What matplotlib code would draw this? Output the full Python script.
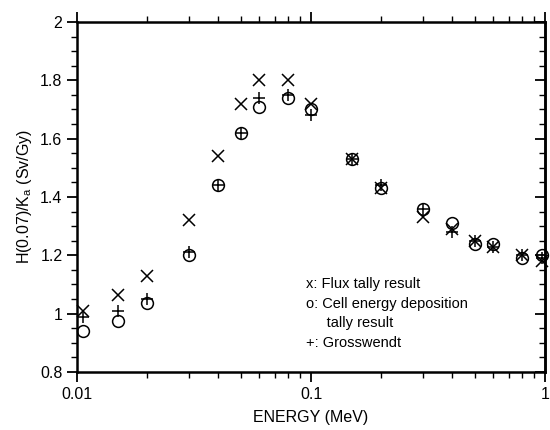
import numpy as np
import matplotlib
matplotlib.use("Agg")
import matplotlib.pyplot as plt
from matplotlib.ticker import FixedLocator, NullFormatter, MultipleLocator

plt.rcParams["font.family"] = ["Liberation Sans", "DejaVu Sans"]

# photon energy (MeV), as placed on the scanned plot
energy = [0.0106, 0.015, 0.02, 0.03, 0.04, 0.05, 0.06, 0.08, 0.1,
          0.15, 0.2, 0.3, 0.4, 0.5, 0.6, 0.8, 0.97]

# H(0.07)/Ka (Sv/Gy)
flux_tally = [1.01, 1.065, 1.13, 1.32, 1.54, 1.72, 1.80, 1.80, 1.72,
              1.53, 1.43, 1.33, 1.29, 1.25, 1.23, 1.20, 1.18]
cell_tally = [0.94, 0.975, 1.035, 1.20, 1.44, 1.62, 1.71, 1.74, 1.70,
              1.53, 1.43, 1.36, 1.31, 1.24, 1.24, 1.19, 1.20]
grosswendt = [0.99, 1.01, 1.05, 1.21, 1.44, 1.62, 1.74, 1.75, 1.68,
              1.53, 1.44, 1.36, 1.28, 1.25, 1.23, 1.20, 1.19]

fig = plt.figure(figsize=(5.5, 4.3), dpi=100)
ax = fig.add_axes([0.14, 0.135, 0.851, 0.814])

ax.plot(energy, flux_tally, "x", color="black", markersize=8, markeredgewidth=1.1, clip_on=False)
ax.plot(energy, cell_tally, "o", color="black", markersize=8.5,
        markerfacecolor="none", markeredgewidth=1.1, clip_on=False)
ax.plot(energy, grosswendt, "+", color="black", markersize=9, markeredgewidth=1.1, clip_on=False)

ax.set_xscale("log")
ax.set_xlim(0.01, 1)
ax.set_ylim(0.8, 2)
ax.set_xticks([0.01, 0.1, 1])
ax.set_xticklabels(["0.01", "0.1", "1"])
ax.yaxis.set_major_locator(FixedLocator([0.8, 1, 1.2, 1.4, 1.6, 1.8, 2]))
ax.set_yticklabels(["0.8", "1", "1.2", "1.4", "1.6", "1.8", "2"])
ax.yaxis.set_minor_locator(MultipleLocator(0.05))
ax.xaxis.set_minor_formatter(NullFormatter())

ax.tick_params(which="both", direction="out", top=True, right=False, labelsize=11.5)
ax.tick_params(which="major", length=7, width=1.3)
ax.tick_params(which="minor", length=4, width=1.0)

# right side ticks point inward
sec = ax.secondary_yaxis("right")
sec.yaxis.set_major_locator(FixedLocator([0.8, 1, 1.2, 1.4, 1.6, 1.8, 2]))
sec.yaxis.set_minor_locator(MultipleLocator(0.05))
sec.tick_params(which="both", direction="in", labelright=False)
sec.tick_params(which="major", length=7, width=1.3)
sec.tick_params(which="minor", length=4, width=1.0)
sec.spines["right"].set_linewidth(1.8)

for s in ax.spines.values():
    s.set_linewidth(1.8)

ax.set_xlabel("ENERGY (MeV)", fontsize=11.5, labelpad=6)
ax.set_ylabel("H(0.07)/K$_\\mathregular{a}$ (Sv/Gy)", fontsize=11.5, labelpad=4)

ax.text(0.49, 0.27, "x: Flux tally result\no: Cell energy deposition\n     tally result\n+: Grosswendt",
        transform=ax.transAxes, fontsize=10.5, va="top", ha="left", linespacing=1.5)

fig.savefig("out.png", dpi=100)
